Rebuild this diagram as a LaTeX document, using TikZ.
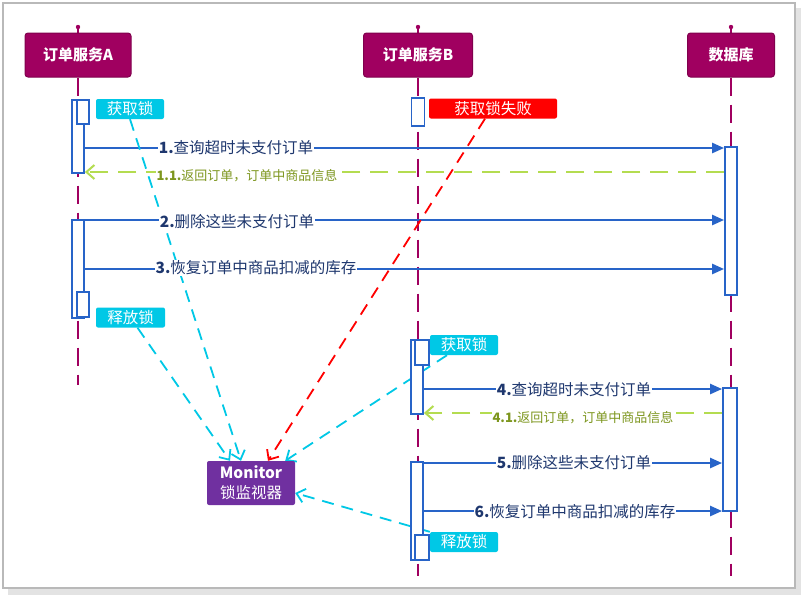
\documentclass[tikz,border=0pt]{standalone}
\usepackage{fontspec}
\setmainfont{Noto Sans CJK SC}
\usetikzlibrary{arrows.meta,positioning,calc}
\definecolor{hdr}{RGB}{160,0,96}
\definecolor{monc}{RGB}{112,48,160}
\definecolor{lockc}{RGB}{0,200,230}
\definecolor{blu}{RGB}{40,100,200}
\definecolor{navy}{RGB}{30,55,110}
\definecolor{lgreen}{RGB}{180,220,80}
\definecolor{verdeo}{RGB}{125,150,30}
\pgfdeclarelayer{bg}
\pgfsetlayers{bg,main}

\begin{document}
\begin{tikzpicture}[x=1pt,y=-1pt,
    head/.style={draw=hdr!80!black,fill=hdr,rounded corners=3pt,line width=1pt,
      minimum height=44pt,text=white,font=\bfseries\fontsize{15}{18}\selectfont},
    act/.style={draw=blu,fill=white,line width=1.8pt,minimum width=12pt,inner sep=0pt},
    tag/.style={fill=lockc,rounded corners=2pt,minimum height=20pt,inner sep=0pt,
      text=white,font=\fontsize{15.5}{18}\selectfont},
    life/.style={hdr,line width=2pt,dash pattern=on 18pt off 9pt},
    msg/.style={blu,line width=2.4pt,-{Triangle[length=12pt,width=10pt]}},
    ret/.style={lgreen,line width=2pt,dash pattern=on 18pt off 10pt,
      -{Straight Barb[length=8pt,width=14pt]}},
    lbl/.style={fill=white,text=navy,inner sep=1pt,font=\fontsize{15.5}{18}\selectfont},
    rlbl/.style={fill=white,text=verdeo,inner sep=1pt,font=\fontsize{13}{15}\selectfont},
    watch/.style={line width=1.8pt,dash pattern=on 12pt off 8pt,
      -{Straight Barb[length=8pt,width=14pt]}}]
  \useasboundingbox (0,0) rectangle (803,600);

  % participants
  \node[head,minimum width=106pt] (srvA) at (78,55) {订单服务A};
  \node[head,minimum width=109pt] (srvB) at (418,55) {订单服务B};
  \node[head,minimum width=87pt]  (db)   at (731,55) {数据库};
  \coordinate (topA) at (78,27);
  \coordinate (topB) at (418,27);
  \coordinate (topD) at (731,27);
  \coordinate (endA) at (78,385);
  \coordinate (endB) at (418,576);
  \coordinate (endD) at (731,576);

  % activations
  \node[act,minimum height=73pt] (actA1) at (78,136.5) {};
  \node[act,minimum height=24pt] (actA1s) at (83,112) {};
  \node[act,minimum height=98pt] (actA2) at (78,269) {};
  \node[act,minimum height=25pt] (actA2s) at (83,304.5) {};
  \node[act,minimum height=28pt,minimum width=13pt] (actBf) at (418,112) {};
  \node[act,minimum height=74pt] (actB1) at (417,377) {};
  \node[act,minimum height=25pt,minimum width=14pt] (actB1s) at (422,352.5) {};
  \node[act,minimum height=98pt] (actB2) at (417,511) {};
  \node[act,minimum height=25pt,minimum width=14pt] (actB2s) at (422,547.5) {};
  \node[act,minimum height=148pt] (actD1) at (731,221) {};
  \node[act,minimum height=123pt,minimum width=14pt] (actD2) at (730,449.5) {};

  % lock tags
  \node[tag,minimum width=68pt] (getA) at (130,109) {获取锁};
  \node[tag,minimum width=69pt] (relA) at (130.5,317.5) {释放锁};
  \node[tag,fill=red,minimum width=128pt] (failLk) at (493,108.5) {获取锁失败};
  \node[tag,minimum width=68pt] (getB) at (464,345) {获取锁};
  \node[tag,minimum width=68pt] (relB) at (464,542) {释放锁};

  \node[fill=monc,rounded corners=2pt,minimum width=88pt,minimum height=44pt,
        align=center,text=white,font=\fontsize{15.5}{20}\selectfont] (mon) at (251,483)
        {\textbf{Monitor}\\锁监视器};

  % message rows
  \coordinate (m1) at (0,148);
  \coordinate (m11) at (0,172);
  \coordinate (m2) at (0,220);
  \coordinate (m3) at (0,269);
  \coordinate (m4) at (0,389);
  \coordinate (m41) at (0,413);
  \coordinate (m5) at (0,463);
  \coordinate (m6) at (0,511);

  \node[lbl] (t1) at (236,148) {\textbf{1.}查询超时未支付订单};
  \node[rlbl] (t11) at (247,176) {\textbf{1.1.}返回订单，订单中商品信息};
  \node[lbl] (t2) at (237,222) {\textbf{2.}删除这些未支付订单};
  \node[lbl] (t3) at (256,268) {\textbf{3.}恢复订单中商品扣减的库存};
  \node[lbl] (t4) at (574,390) {\textbf{4.}查询超时未支付订单};
  \node[rlbl] (t41) at (583,418) {\textbf{4.1.}返回订单，订单中商品信息};
  \node[lbl] (t5) at (574,463) {\textbf{5.}删除这些未支付订单};
  \node[lbl] (t6) at (575,512) {\textbf{6.}恢复订单中商品扣减的库存};

  \begin{pgfonlayer}{bg}
    % frame
    \fill[gray!22] (8,8) rectangle (801,595);
    \draw[gray!55,fill=white,line width=1.2pt] (3,3) rectangle (795,588);

    % lifelines
    \foreach \t/\h/\e in {topA/srvA/endA,topB/srvB/endB,topD/db/endD}{
      \draw[hdr,line width=2pt] (\t) -- (\h.north);
      \fill[hdr] (\t) circle (2.2pt);
      \draw[life] (\h.south) -- (\e);
    }

    % messages
    \draw[msg] (actA1.east |- m1) -- (actD1.west |- m1);
    \draw[ret] (actD1.west |- m11) -- (actA1.east |- m11);
    \draw[msg] (actA2.east |- m2) -- (actD1.west |- m2);
    \draw[msg] (actA2.east |- m3) -- (actD1.west |- m3);
    \draw[msg] (actB1.east |- m4) -- (actD2.west |- m4);
    \draw[ret] (actD2.west |- m41) -- (actB1.east |- m41);
    \draw[msg] (actB2.east |- m5) -- (actD2.west |- m5);
    \draw[msg] (actB2.east |- m6) -- (actD2.west |- m6);

    % lock monitor
    \draw[watch,lockc] (getA.south) -- ([xshift=-10pt]mon.north);
    \draw[watch,lockc] ([xshift=7pt]relA.south) -- ([xshift=-21pt]mon.north);
    \draw[watch,red] ([xshift=-8pt]failLk.south) -- ([xshift=17pt]mon.north);
    \draw[watch,lockc] ([xshift=-17pt]getB.south) -- ([xshift=-10pt]mon.north east);
    \draw[watch,lockc] (relB.north west) -- ([yshift=-10pt]mon.east);
  \end{pgfonlayer}
\end{tikzpicture}
\end{document}
